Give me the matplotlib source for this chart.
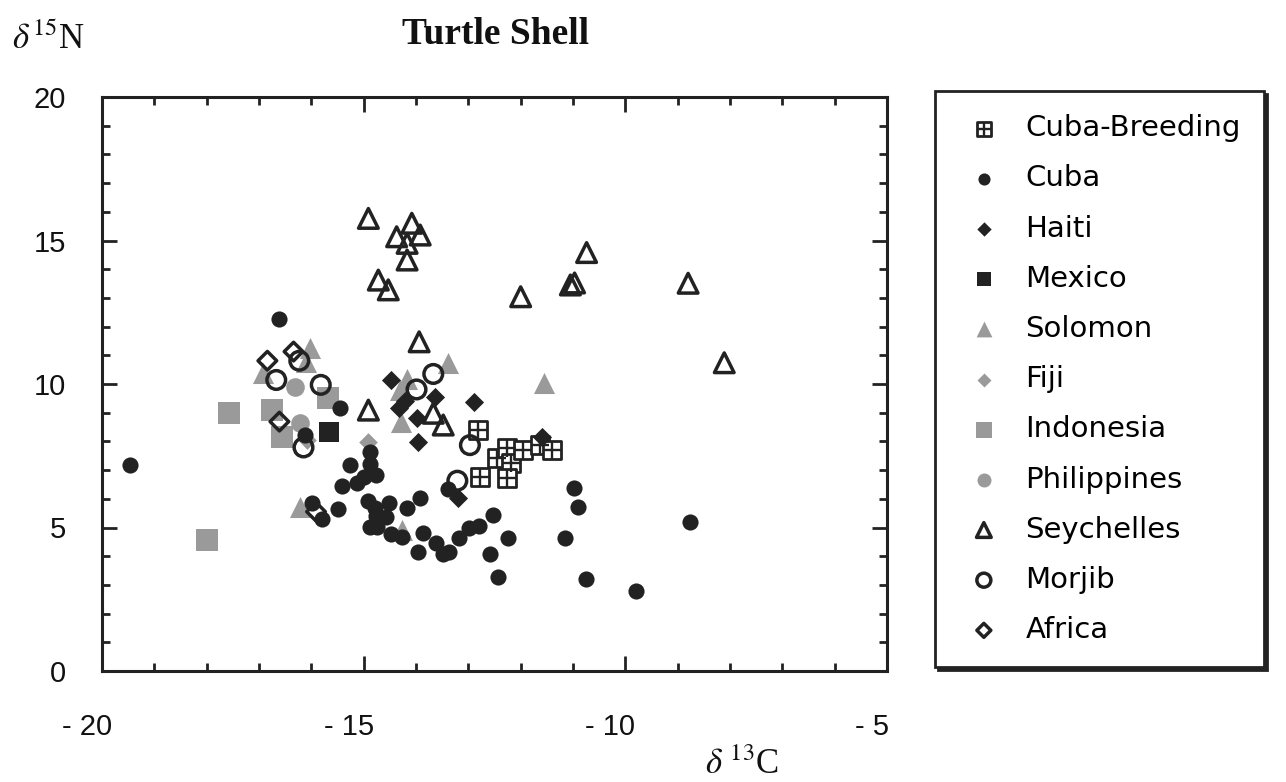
import numpy as np
import matplotlib
matplotlib.use('Agg')
import matplotlib.pyplot as plt
from matplotlib.transforms import ScaledTranslation
from matplotlib.legend_handler import HandlerTuple

plt.rcParams['font.family'] = ['Liberation Sans', 'DejaVu Sans']
plt.rcParams['mathtext.fontset'] = 'stix'

# Data (d13C, d15N).
cuba_breeding_x = [-12.81, -12.78, -12.46, -12.27, -12.18, -12.27, -11.95, -11.63, -11.40]
cuba_breeding_y = [8.40, 6.77, 7.41, 7.76, 7.24, 6.71, 7.70, 7.88, 7.70]

cuba_x = [-19.46, -16.61, -15.45, -16.12, -14.87, -14.87, -15.26, -14.76, -15.00, -15.12,
          -15.41, -15.99, -15.80, -15.50, -14.91, -14.78, -14.51, -14.76, -14.57, -14.88,
          -14.75, -14.48, -14.27, -14.17, -13.92, -13.87, -13.97, -13.62, -13.48, -13.37,
          -13.18, -12.99, -12.79, -12.53, -12.59, -12.24, -12.44, -13.38, -10.99, -10.90,
          -11.15, -10.75, -9.80, -8.76]
cuba_y = [7.18, 12.26, 9.15, 8.22, 7.64, 7.21, 7.18, 6.83, 6.77, 6.54,
          6.46, 5.84, 5.29, 5.64, 5.93, 5.67, 5.86, 5.40, 5.38, 5.03,
          5.03, 4.77, 4.68, 5.67, 6.04, 4.80, 4.16, 4.45, 4.08, 4.16,
          4.62, 4.97, 5.06, 5.44, 4.08, 4.62, 3.29, 6.33, 6.36, 5.72,
          4.65, 3.21, 2.79, 5.20]

haiti_x = [-14.48, -14.32, -14.21, -13.64, -13.99, -12.89, -13.97, -11.60, -13.19]
haiti_y = [10.14, 9.15, 9.41, 9.56, 8.80, 9.38, 7.99, 8.16, 6.02]

mexico_x = [-15.66]
mexico_y = [8.34]

solomon_x = [-16.03, -16.10, -16.92, -14.18, -14.31, -14.29, -13.38, -11.55, -16.22, -14.27]
solomon_y = [11.24, 10.77, 10.37, 10.19, 9.79, 8.69, 10.72, 10.02, 5.72, 4.91]

fiji_x = [-14.91, -16.09]
fiji_y = [7.99, 8.05]

indonesia_x = [-17.57, -16.76, -16.57, -15.68, -18.00]
indonesia_y = [8.98, 9.09, 8.16, 9.50, 4.56]

philippines_x = [-16.31, -16.22]
philippines_y = [9.91, 8.63]

seychelles_x = [-14.91, -14.08, -14.37, -13.92, -14.17, -14.17, -14.72, -14.53, -13.94,
                -14.91, -13.67, -13.48, -10.74, -12.00, -11.05, -10.97, -8.80, -8.11]
seychelles_y = [15.77, 15.60, 15.13, 15.19, 14.90, 14.32, 13.62, 13.28, 11.47,
                9.09, 8.98, 8.57, 14.58, 13.04, 13.45, 13.52, 13.51, 10.74]

morjib_x = [-16.23, -16.67, -15.82, -16.15, -13.67, -13.99, -12.97, -13.21]
morjib_y = [10.81, 10.14, 9.97, 7.79, 10.35, 9.81, 7.87, 6.63]

africa_x = [-16.84, -16.34, -16.61, -15.91]
africa_y = [10.81, 11.13, 8.69, 5.55]

x_ticks = [-20, -15, -10, -5]
x_tick_labels = ['- 20', '- 15', '- 10', '- 5']
y_ticks = [0, 5, 10, 15, 20]

black = '#222222'
gray = '#9a9a9a'

fig = plt.figure(figsize=(12.86, 7.82), dpi=100)
ax = fig.add_axes([102 / 1286, 1 - 671 / 782, 785 / 1286, 574 / 782])

# gray groups underneath
h_sol = ax.scatter(solomon_x, solomon_y, s=230, marker='^', color=gray, linewidths=0, zorder=2)
h_fiji = ax.scatter(fiji_x, fiji_y, s=90, marker='D', color=gray, linewidths=0, zorder=2)
h_indo = ax.scatter(indonesia_x, indonesia_y, s=240, marker='s', color=gray, linewidths=0, zorder=2)
h_phil = ax.scatter(philippines_x, philippines_y, s=180, marker='o', color=gray, linewidths=0, zorder=2)

h_cb_sq = ax.scatter(cuba_breeding_x, cuba_breeding_y, s=160, marker='s', facecolor='white',
                     edgecolor=black, linewidths=2.0, zorder=3)
h_cb_pl = ax.scatter(cuba_breeding_x, cuba_breeding_y, s=160, marker='+', color=black,
                     linewidths=1.7, zorder=3)
h_cuba = ax.scatter(cuba_x, cuba_y, s=135, marker='o', color=black, linewidths=0, zorder=4)
h_haiti = ax.scatter(haiti_x, haiti_y, s=95, marker='D', color=black, linewidths=0, zorder=4)
h_mex = ax.scatter(mexico_x, mexico_y, s=200, marker='s', color=black, linewidths=0, zorder=4)

h_sey = ax.scatter(seychelles_x, seychelles_y, s=200, marker='^', facecolor='none',
                   edgecolor=black, linewidths=2.5, zorder=5)
h_mor = ax.scatter(morjib_x, morjib_y, s=180, marker='o', facecolor='none',
                   edgecolor=black, linewidths=2.5, zorder=5)
h_afr = ax.scatter(africa_x, africa_y, s=90, marker='D', facecolor='none',
                   edgecolor=black, linewidths=2.5, zorder=5)

ax.set_xlim(-20, -5)
ax.set_ylim(0, 20)
ax.set_xticks(x_ticks)
ax.set_xticklabels(x_tick_labels)
ax.set_yticks(y_ticks)
ax.set_xticks(np.arange(-20, -4, 1), minor=True)
ax.set_yticks(np.arange(0, 21, 1), minor=True)
ax.tick_params(which='both', direction='in', top=True, right=True, width=2, color=black,
               labelsize=21, labelcolor='#111111')
ax.tick_params(which='major', length=11)
ax.tick_params(which='minor', length=6)
ax.tick_params(axis='x', pad=30)
ax.tick_params(axis='y', pad=26)
for lab in ax.get_xticklabels():
    lab.set_transform(lab.get_transform() + ScaledTranslation(-0.15, 0, fig.dpi_scale_trans))
for sp in ax.spines.values():
    sp.set_linewidth(2.2)
    sp.set_color(black)

fig.text(495 / 1286, 1 - 35 / 782, 'Turtle Shell', ha='center', va='center', fontsize=27,
         fontweight='bold', family='Liberation Serif', color='#111111')
fig.text(12 / 1286, 1 - 40 / 782, r'$\delta^{15}$N', ha='left', va='center', fontsize=25,
         family='Liberation Serif', color='#111111')
fig.text(742 / 1286, 1 - 765 / 782, r'$\delta\ ^{13}$C', ha='center', va='center', fontsize=25,
         family='Liberation Serif', color='#111111')

handles = [(h_cb_sq, h_cb_pl), h_cuba, h_haiti, h_mex, h_sol, h_fiji, h_indo, h_phil,
           h_sey, h_mor, h_afr]
labels = ['Cuba-Breeding', 'Cuba', 'Haiti', 'Mexico', 'Solomon', 'Fiji', 'Indonesia',
          'Philippines', 'Seychelles', 'Morjib', 'Africa']
leg = fig.legend(handles, labels, loc='upper left', bbox_to_anchor=(935 / 1286, 1 - 91 / 782),
                 bbox_transform=fig.transFigure, borderaxespad=0, frameon=True, fancybox=False,
                 edgecolor=black, framealpha=1, prop={'family': 'DejaVu Sans', 'size': 21},
                 borderpad=0.8, labelspacing=0.76, handlelength=1.75, handletextpad=0.55,
                 markerscale=0.75, scatterpoints=1,
                 handler_map={tuple: HandlerTuple(ndivide=1)},
                 shadow={'color': black, 'alpha': 1})
leg.get_frame().set_linewidth(2)

fig.savefig('out.png', dpi=100)
